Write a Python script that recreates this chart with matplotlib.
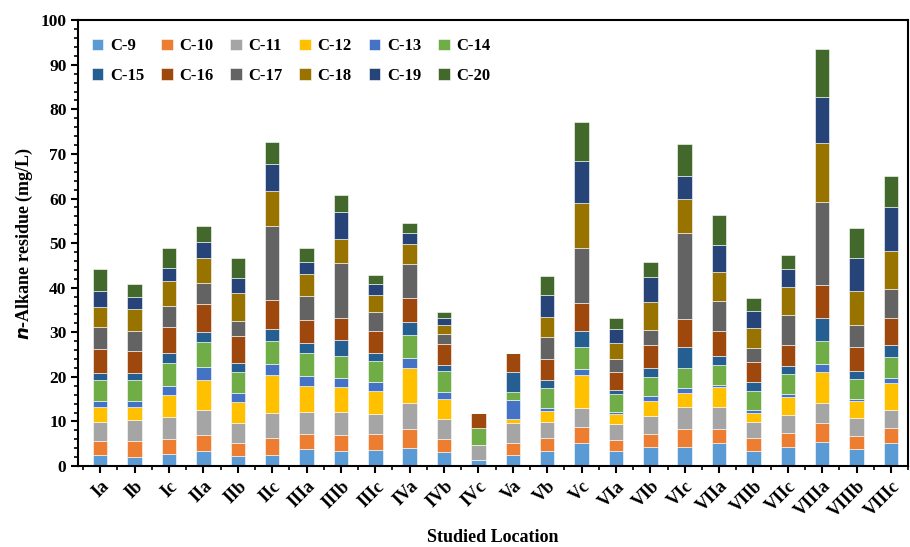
import matplotlib
matplotlib.use("Agg")
import matplotlib.pyplot as plt
import numpy as np

categories = ["Ia", "Ib", "Ic", "IIa", "IIb", "IIc", "IIIa", "IIIb", "IIIc", "IVa", "IVb", "IVc",
              "Va", "Vb", "Vc", "VIa", "VIb", "VIc", "VIIa", "VIIb", "VIIc", "VIIIa", "VIIIb", "VIIIc"]
series_names = ["C-9", "C-10", "C-11", "C-12", "C-13", "C-14", "C-15", "C-16", "C-17", "C-18", "C-19", "C-20"]

c9  = [2.5, 2.1, 2.7, 3.3, 2.3, 2.5, 3.9, 3.3, 3.7, 4.0, 3.1, 1.4, 2.4, 3.4, 5.1, 3.3, 4.3, 4.2, 5.1, 3.4, 4.2, 5.5, 3.9, 5.2]
c10 = [3.2, 3.6, 3.3, 3.6, 2.8, 3.9, 3.3, 3.7, 3.5, 4.2, 3.0, 0.0, 2.8, 3.0, 3.6, 2.6, 3.0, 4.1, 3.3, 3.0, 3.3, 4.1, 2.9, 3.4]
c11 = [4.2, 4.7, 5.1, 5.6, 4.6, 5.5, 5.0, 5.2, 4.5, 5.9, 4.4, 3.3, 4.4, 3.4, 4.4, 3.5, 3.9, 5.0, 4.8, 3.5, 3.9, 4.5, 4.0, 4.0]
c12 = [3.3, 2.9, 4.8, 6.8, 4.6, 8.5, 5.7, 5.6, 5.2, 7.8, 4.5, 0.0, 1.0, 2.5, 7.4, 2.3, 3.4, 3.1, 4.6, 2.1, 4.1, 7.1, 3.8, 6.0]
c13 = [1.4, 1.4, 2.1, 3.0, 2.0, 2.5, 2.4, 2.0, 2.0, 2.4, 1.7, 0.0, 4.3, 0.8, 1.3, 0.5, 1.0, 1.0, 0.4, 0.6, 0.6, 1.7, 0.5, 1.1]
c14 = [4.7, 4.6, 5.2, 5.5, 4.9, 5.1, 5.0, 4.9, 4.6, 5.1, 4.6, 3.9, 1.6, 4.4, 4.9, 3.9, 4.4, 4.5, 4.4, 4.2, 4.5, 5.2, 4.5, 4.8]
c15 = [1.6, 1.5, 2.2, 2.3, 2.0, 2.8, 2.2, 3.5, 1.8, 3.0, 1.4, 0.0, 4.7, 1.7, 3.5, 0.9, 2.1, 4.9, 2.1, 2.1, 1.9, 5.2, 1.8, 2.6]
c16 = [5.3, 5.1, 5.8, 6.3, 6.0, 6.5, 5.3, 5.1, 4.9, 5.2, 4.6, 3.4, 4.1, 4.9, 6.3, 4.2, 5.0, 6.1, 5.5, 4.5, 4.7, 7.4, 5.4, 6.0]
c17 = [5.0, 4.4, 4.7, 4.6, 3.4, 16.6, 5.3, 12.3, 4.3, 7.8, 2.4, 0.0, 0.0, 4.9, 12.5, 2.9, 3.5, 19.3, 6.9, 3.1, 6.7, 18.6, 4.8, 6.6]
c18 = [4.5, 4.9, 5.7, 5.6, 6.3, 7.8, 5.0, 5.4, 3.8, 4.3, 1.9, 0.0, 0.0, 4.5, 9.9, 3.6, 6.1, 7.6, 6.4, 4.5, 6.3, 13.1, 7.6, 8.6]
c19 = [3.6, 2.8, 2.9, 3.6, 3.3, 6.1, 2.7, 5.9, 2.5, 2.5, 1.7, 0.0, 0.0, 4.9, 9.6, 3.0, 5.6, 5.3, 6.1, 3.8, 4.0, 10.3, 7.5, 9.7]
c20 = [4.9, 2.8, 4.5, 3.7, 4.4, 4.9, 3.2, 4.0, 2.0, 2.4, 1.3, 0.0, 0.0, 4.2, 8.6, 2.6, 3.5, 7.1, 6.8, 2.9, 3.1, 10.8, 6.6, 7.0]

series = [c9, c10, c11, c12, c13, c14, c15, c16, c17, c18, c19, c20]
colors = ["#5B9BD5", "#ED7D31", "#A5A5A5", "#FFC000", "#4472C4", "#70AD47",
          "#255E91", "#9E480E", "#636363", "#997300", "#264478", "#43682B"]

plt.rcParams['font.family'] = ['Liberation Serif', 'DejaVu Serif']
plt.rcParams['font.weight'] = 'bold'

fig = plt.figure(figsize=(9.1, 5.47), dpi=100)
ax = fig.add_axes([0.086, 0.148, 0.912, 0.815])

x = np.arange(len(categories))
bottom = np.zeros(len(categories))
handles = []
for name, vals, col in zip(series_names, series, colors):
    v = np.array(vals)
    b = ax.bar(x, v, 0.42, bottom=bottom, color=col, edgecolor='white', linewidth=0.4, label=name)
    handles.append(b)
    bottom += v

ax.set_xlim(-0.64, len(categories) - 0.5)
ax.set_ylim(0, 100)
ax.set_yticks(np.arange(0, 101, 10))
ax.set_yticks(np.arange(0, 101, 2), minor=True)
ax.set_xticks(x)
ax.set_xticks(np.arange(-0.5, len(categories), 1), minor=True)
ax.set_xticklabels(categories, rotation=45, ha='right', rotation_mode='anchor',
                   fontsize=13, fontweight='bold')
for lbl in ax.get_yticklabels():
    lbl.set_fontsize(12.5)
    lbl.set_fontweight('bold')
ax.tick_params(axis='both', which='major', direction='out', length=5, width=1.5)
ax.tick_params(axis='both', which='minor', direction='out', length=3, width=1.2)
for s in ax.spines.values():
    s.set_linewidth(1.5)

ax.set_xlabel("Studied Location", fontsize=13, fontweight='bold', labelpad=6)
ax.set_ylabel(r"$\bfit{n}$-Alkane residue (mg/L)", fontsize=13, fontweight='bold')

order = [0, 6, 1, 7, 2, 8, 3, 9, 4, 10, 5, 11]
leg = ax.legend([handles[i] for i in order], [series_names[i] for i in order],
                ncol=6, loc='upper left', bbox_to_anchor=(-0.002, 0.993), frameon=False,
                prop={'weight': 'bold', 'size': 12}, handlelength=0.7, handleheight=0.7,
                columnspacing=1.0, handletextpad=0.4, labelspacing=0.8)

fig.savefig("out.png", dpi=100)
